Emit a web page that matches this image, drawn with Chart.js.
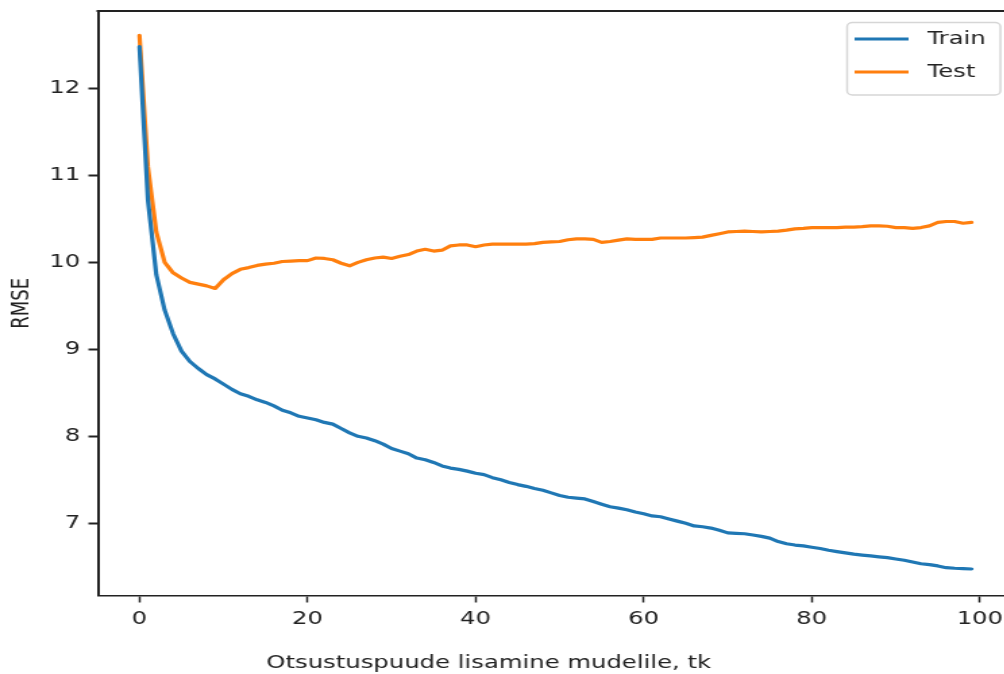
<!DOCTYPE html>
<html>
<head>
<meta charset="utf-8">
<script src="https://cdn.jsdelivr.net/npm/chart.js@4.4.1/dist/chart.umd.min.js"></script>
<style>
  html, body { margin: 0; padding: 0; background: #fff; overflow: hidden; width: 1004px; height: 674px; }
  /* the reference picture is stretched sideways, so is this one */
  #wrap { width: 760px; height: 674px; transform: scaleX(1.35); transform-origin: 0 0; }
</style>
</head>
<body>
<div id="wrap"><canvas id="c" width="760" height="674"></canvas></div>
<script>
// RMSE by number of trees added to the model
const trees = [0,1,2,3,4,5,6,7,8,9,10,11,12,13,14,15,16,17,18,19,20,21,22,23,24,25,26,27,28,29,
  30,31,32,33,34,35,36,37,38,39,40,41,42,43,44,45,46,47,48,49,50,51,52,53,54,55,56,57,58,59,
  60,61,62,63,64,65,66,67,68,69,70,71,72,73,74,75,76,77,78,79,80,81,82,83,84,85,86,87,88,89,
  90,91,92,93,94,95,96,97,98,99];

const train = [12.48,10.72,9.86,9.45,9.18,8.98,8.86,8.78,8.71,8.66,
  8.60,8.54,8.49,8.46,8.42,8.39,8.35,8.30,8.27,8.23,
  8.21,8.19,8.16,8.14,8.09,8.04,8.00,7.98,7.95,7.91,
  7.86,7.83,7.80,7.75,7.73,7.70,7.66,7.635,7.62,7.60,
  7.575,7.56,7.525,7.50,7.47,7.445,7.425,7.40,7.38,7.35,
  7.32,7.30,7.29,7.28,7.25,7.22,7.19,7.175,7.155,7.13,
  7.11,7.085,7.075,7.05,7.025,7.00,6.97,6.96,6.945,6.92,
  6.89,6.885,6.88,6.865,6.85,6.83,6.79,6.765,6.75,6.74,
  6.725,6.71,6.69,6.675,6.66,6.645,6.635,6.625,6.615,6.605,
  6.59,6.575,6.555,6.535,6.525,6.51,6.49,6.483,6.48,6.475];

const test = [12.61,11.10,10.35,10.00,9.88,9.82,9.77,9.75,9.73,9.70,
  9.80,9.87,9.92,9.94,9.965,9.98,9.99,10.01,10.015,10.02,
  10.02,10.05,10.045,10.03,9.99,9.96,10.00,10.03,10.05,10.06,
  10.045,10.07,10.09,10.13,10.15,10.13,10.14,10.19,10.20,10.20,
  10.18,10.20,10.21,10.21,10.21,10.21,10.21,10.215,10.23,10.235,
  10.24,10.26,10.27,10.27,10.265,10.23,10.24,10.255,10.27,10.265,
  10.265,10.265,10.28,10.28,10.28,10.28,10.285,10.29,10.31,10.33,
  10.35,10.355,10.36,10.355,10.35,10.355,10.36,10.37,10.385,10.39,
  10.40,10.40,10.40,10.40,10.405,10.405,10.41,10.42,10.42,10.415,
  10.40,10.40,10.39,10.40,10.42,10.46,10.47,10.47,10.45,10.46];

const xTicks = [0, 20, 40, 60, 80, 100];
const yTicks = [7, 8, 9, 10, 11, 12];
const xTitle = 'Otsustuspuude lisamine mudelile, tk';
const yTitle = 'RMSE';

const FONT = { family: '"DejaVu Sans", sans-serif', size: 18 };
const INK = '#222';

// top spine (matplotlib box), the right one falls outside the picture
const topSpine = {
  id: 'topSpine',
  afterDraw(chart) {
    const { ctx, chartArea: a } = chart;
    ctx.save();
    ctx.strokeStyle = INK;
    ctx.lineWidth = 2;
    ctx.beginPath();
    ctx.moveTo(a.left - 1, a.top);
    ctx.lineTo(a.right + 1, a.top);
    ctx.stroke();
    ctx.restore();
  }
};

// x title sits left of the axis centre in the reference
const xLabel = {
  id: 'xLabel',
  afterDraw(chart) {
    const ctx = chart.ctx;
    ctx.save();
    ctx.font = `${FONT.size}px ${FONT.family}`;
    ctx.fillStyle = INK;
    ctx.textAlign = 'center';
    ctx.textBaseline = 'middle';
    ctx.fillText(xTitle, 362, 663);
    ctx.restore();
  }
};

// framed legend in the upper right corner
const boxLegend = {
  id: 'boxLegend',
  afterDraw(chart) {
    const ctx = chart.ctx;
    const x = 627.5, y = 22.5, w = 113.5, h = 72.5, r = 4;
    ctx.save();
    ctx.fillStyle = 'rgba(255,255,255,0.8)';
    ctx.strokeStyle = '#d6d6d6';
    ctx.lineWidth = 1.5;
    ctx.beginPath();
    ctx.roundRect(x, y, w, h, r);
    ctx.fill();
    ctx.stroke();
    ctx.font = `${FONT.size}px ${FONT.family}`;
    ctx.textBaseline = 'middle';
    chart.data.datasets.forEach((ds, i) => {
      const cy = 39 + i * 33;
      ctx.strokeStyle = ds.borderColor;
      ctx.lineWidth = 3;
      ctx.beginPath();
      ctx.moveTo(633, cy);
      ctx.lineTo(673, cy);
      ctx.stroke();
      ctx.fillStyle = INK;
      ctx.fillText(ds.label, 687, cy);
    });
    ctx.restore();
  }
};

new Chart(document.getElementById('c'), {
  type: 'line',
  data: {
    datasets: [
      { label: 'Train', data: trees.map((t, i) => ({ x: t, y: train[i] })), borderColor: '#1f77b4' },
      { label: 'Test', data: trees.map((t, i) => ({ x: t, y: test[i] })), borderColor: '#ff7f0e' }
    ]
  },
  options: {
    responsive: false,
    devicePixelRatio: 1,
    animation: false,
    events: [],
    layout: { padding: { top: 11, right: 9.6, left: 0, bottom: 0 } },
    elements: {
      line: { borderWidth: 3.2, tension: 0, borderCapStyle: 'round', borderJoinStyle: 'round' },
      point: { radius: 0 }
    },
    plugins: { legend: { display: false }, tooltip: { enabled: false } },
    scales: {
      x: {
        type: 'linear',
        min: -4.95, max: 103.95,
        afterBuildTicks: s => { s.ticks = xTicks.map(v => ({ value: v })); },
        afterFit: s => { s.height = 78.5; s.paddingLeft = 0; s.paddingRight = 0; },
        ticks: { font: FONT, color: INK, padding: 6, maxRotation: 0 },
        grid: { drawOnChartArea: false, tickLength: 7, tickWidth: 1.5, tickColor: INK },
        border: { color: INK, width: 1.5 }
      },
      y: {
        min: 6.17, max: 12.89,
        afterBuildTicks: s => { s.ticks = yTicks.map(v => ({ value: v })); },
        afterFit: s => { s.width = 72.5; s.paddingTop = 0; s.paddingBottom = 0; },
        ticks: { font: FONT, color: INK, padding: 6 },
        grid: { drawOnChartArea: false, tickLength: 7, tickWidth: 2, tickColor: INK },
        border: { color: INK, width: 2 },
        title: { display: true, text: yTitle, font: FONT, color: INK, padding: { top: 6, bottom: 0 } }
      }
    }
  },
  plugins: [topSpine, xLabel, boxLegend]
});
</script>
</body>
</html>
